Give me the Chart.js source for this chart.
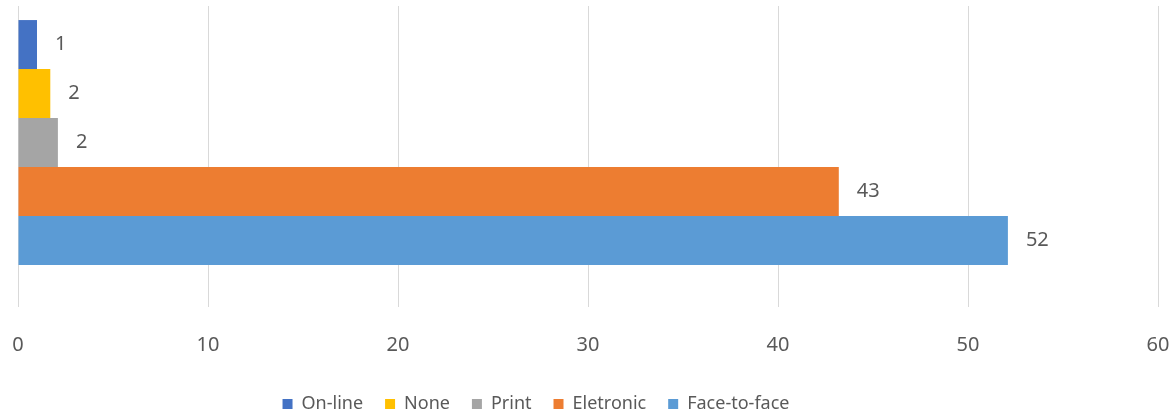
<!DOCTYPE html>
<html lang="en">
<head>
    <meta charset="UTF-8">
    <title>Channels</title>
    <script src="https://cdn.jsdelivr.net/npm/chart.js@4.4.0/dist/chart.umd.min.js"></script>
    <style>
        html, body { margin: 0; padding: 0; background: #ffffff; }
        #wrap { width: 1174px; height: 418px; }
    </style>
</head>
<body>
    <div id="wrap"><canvas id="chart"></canvas></div>

    <script>
        // series, top to bottom
        const seriesNames = ['On-line', 'None', 'Print', 'Eletronic', 'Face-to-face'];
        const seriesValues = [1.0, 1.7, 2.1, 43.2, 52.1];
        const seriesColors = ['#4472c4', '#ffc000', '#a5a5a5', '#ed7d31', '#5b9bd5'];
        const xTicks = [0, 10, 20, 30, 40, 50, 60];

        const textColor = '#595959';
        const fontFamily = '"Noto Sans", "Open Sans", sans-serif';

        // value labels to the right of each bar
        const valueLabels = {
            id: 'valueLabels',
            afterDatasetsDraw(chart) {
                const c = chart.ctx;
                c.save();
                c.fillStyle = textColor;
                c.font = '20px ' + fontFamily;
                c.textBaseline = 'middle';
                c.textAlign = 'left';
                chart.data.datasets.forEach((ds, i) => {
                    const bar = chart.getDatasetMeta(i).data[0];
                    c.fillText(String(Math.round(ds.data[0])), bar.x + 18, bar.y);
                });
                c.restore();
            }
        };

        // legend in the picture sits left of centre
        const legendShift = {
            id: 'legendShift',
            afterLayout(chart) {
                chart.legend.left -= 52;
                chart.legend.right -= 52;
                chart.legend.top -= 10;
                chart.legend.bottom -= 10;
            }
        };

        new Chart(document.getElementById('chart'), {
            type: 'bar',
            data: {
                labels: [''],
                datasets: seriesNames.map((name, i) => ({
                    label: name,
                    data: [seriesValues[i]],
                    backgroundColor: seriesColors[i],
                    borderWidth: 0,
                    categoryPercentage: 0.897,
                    barPercentage: 1.0
                }))
            },
            options: {
                indexAxis: 'y',
                responsive: true,
                maintainAspectRatio: false,
                animation: false,
                layout: { padding: { left: 18, right: 16, top: 6, bottom: -15 } },
                scales: {
                    x: {
                        min: 0,
                        max: 60,
                        afterBuildTicks(axis) {
                            axis.ticks = xTicks.map(v => ({ value: v }));
                        },
                        afterFit(axis) {
                            // keep the plot edges where the layout padding puts them
                            axis.paddingLeft = 0;
                            axis.paddingRight = 0;
                        },
                        grid: {
                            color: '#d9d9d9',
                            lineWidth: 1,
                            drawTicks: true,
                            tickLength: 28,
                            tickColor: '#d9d9d9'
                        },
                        border: { display: false },
                        ticks: {
                            color: textColor,
                            padding: 26,
                            font: { family: fontFamily, size: 20 }
                        }
                    },
                    y: {
                        display: false,
                        grid: { display: false }
                    }
                },
                plugins: {
                    legend: {
                        position: 'bottom',
                        labels: {
                            boxWidth: 10,
                            boxHeight: 10,
                            padding: 22,
                            color: textColor,
                            font: { family: fontFamily, size: 18 }
                        }
                    },
                    tooltip: { enabled: false }
                }
            },
            plugins: [valueLabels, legendShift]
        });
    </script>
</body>
</html>
